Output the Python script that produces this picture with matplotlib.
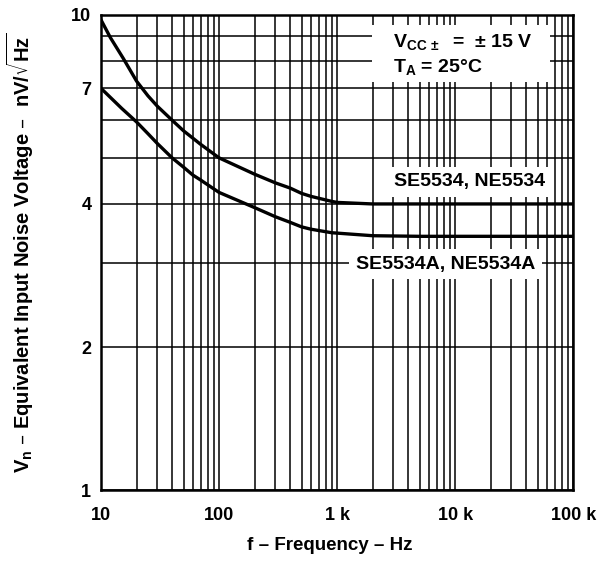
import matplotlib
matplotlib.use('Agg')
from matplotlib import pyplot as plt
from matplotlib.patches import Rectangle
from matplotlib.ticker import FixedLocator, NullFormatter, LogLocator

plt.rcParams['font.family'] = ['Liberation Sans', 'DejaVu Sans']
plt.rcParams['mathtext.default'] = 'regular'

# values
freq_se5534 = [10, 12, 15.4, 20, 25, 30, 40, 50, 60, 69, 100, 200, 300, 400, 500, 600, 900, 1000,
               2000, 5000, 10000, 100000]
vn_se5534 = [9.75, 8.95, 8.1, 7.25, 6.75, 6.42, 6.0, 5.7, 5.5, 5.35, 5.0, 4.62, 4.43, 4.32, 4.21, 4.15, 4.05, 4.03,
             4.0, 4.0, 4.0, 4.0]

freq_se5534a = [10, 12, 15, 20, 25, 30, 40, 50, 60, 69, 100, 200, 300, 400, 500, 600, 900,
                2000, 5000, 10000, 100000]
vn_se5534a = [7.0, 6.7, 6.35, 5.95, 5.62, 5.36, 5.0, 4.78, 4.6, 4.5, 4.23, 3.93, 3.76, 3.66, 3.58, 3.54, 3.48,
              3.43, 3.42, 3.42, 3.42]

x_ticks = [10, 100, 1000, 10000, 100000]
x_tick_labels = ['10', '100', '1 k', '10 k', '100 k']
y_ticks = [1, 2, 4, 7, 10]
y_tick_labels = ['1', '2', '4', '7', '10']

fig = plt.figure(figsize=(6.03, 5.63), dpi=100)
ax = fig.add_axes([0.1675, 0.129, 0.783, 0.845])

ax.set_xscale('log')
ax.set_yscale('log')
ax.set_xlim(10, 100000)
ax.set_ylim(1, 10)

ax.plot(freq_se5534, vn_se5534, color='black', lw=2.4, zorder=3, solid_joinstyle='round')
ax.plot(freq_se5534a, vn_se5534a, color='black', lw=2.4, zorder=3, solid_joinstyle='round')

ax.xaxis.set_major_locator(FixedLocator(x_ticks))
ax.xaxis.set_minor_locator(LogLocator(base=10, subs=range(2, 10)))
ax.yaxis.set_major_locator(FixedLocator(y_ticks))
ax.yaxis.set_minor_locator(FixedLocator([3, 5, 6, 8, 9]))
ax.xaxis.set_minor_formatter(NullFormatter())
ax.yaxis.set_minor_formatter(NullFormatter())
ax.set_xticklabels(x_tick_labels)
ax.set_yticklabels(y_tick_labels)

ax.grid(True, which='both', color='black', lw=1.1)
ax.tick_params(which='both', length=0, labelsize=13)
ax.tick_params(axis='x', pad=12)
ax.tick_params(axis='y', pad=7)
for lab in ax.get_xticklabels() + ax.get_yticklabels():
    lab.set_fontweight('bold')
for s in ax.spines.values():
    s.set_linewidth(1.8)

# white panel behind the conditions text
ax.add_patch(Rectangle((0.574, 0.859), 0.377, 0.12, transform=ax.transAxes,
                       facecolor='white', edgecolor='none', zorder=3.5))

txt = dict(transform=ax.transAxes, fontsize=14, fontweight='bold', zorder=4)
ax.text(0.619, 0.933, 'V$_{CC\\,\\pm}$  =  ± 15 V', ha='left', va='baseline', **txt)
ax.text(0.619, 0.880, 'T$_A$ = 25°C', ha='left', va='baseline', **txt)
ax.text(0.78, 0.639, 'SE5534, NE5534', ha='center', va='baseline',
        bbox=dict(facecolor='white', edgecolor='none', boxstyle='square,pad=0.35'), **txt)
ax.text(0.730, 0.466, 'SE5534A, NE5534A', ha='center', va='baseline',
        bbox=dict(facecolor='white', edgecolor='none', boxstyle='square,pad=0.35'), **txt)

ax.set_xlabel('f – Frequency – Hz', fontsize=13.5, fontweight='bold')
ax.xaxis.set_label_coords(0.485, -0.097)
ax.set_ylabel('V$_n$ – Equivalent Input Noise Voltage –  nV/$\\sqrt{Hz}$', fontsize=14.5,
              fontweight='bold', labelpad=25)

fig.savefig('out.png', dpi=100)
